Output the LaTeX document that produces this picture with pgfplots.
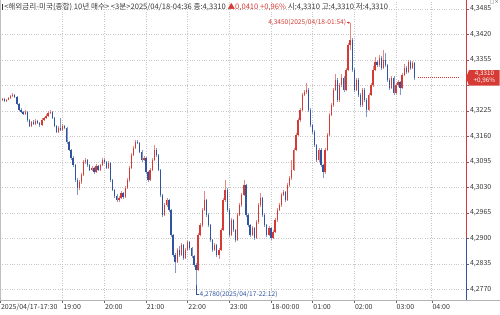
\documentclass[border=0pt]{standalone}
\usepackage{pgfplots}
\pgfplotsset{compat=1.18}
\usepackage{pgfplotstable}
\usetikzlibrary{arrows.meta}
\usepackage{fontspec}
\setmainfont{Noto Sans CJK KR}
\newfontfamily\dejavu{DejaVu Sans}
\definecolor{upc}{RGB}{214,58,52}
\definecolor{dnc}{RGB}{48,84,160}
\definecolor{txtc}{RGB}{55,55,55}

\pgfplotstableread{
i o h l c
0 4.3255 4.3260 4.3248 4.3253
1 4.3253 4.3259 4.3250 4.3256
2 4.3256 4.3258 4.3247 4.3251
3 4.3251 4.3256 4.3249 4.3253
4 4.3253 4.3261 4.3252 4.3258
5 4.3258 4.3266 4.3255 4.3263
6 4.3263 4.3270 4.3260 4.3266
7 4.3266 4.3268 4.3258 4.3261
8 4.3261 4.3263 4.3240 4.3243
9 4.3243 4.3246 4.3225 4.3228
10 4.3228 4.3232 4.3219 4.3223
11 4.3223 4.3226 4.3214 4.3218
12 4.3218 4.3228 4.3215 4.3223
13 4.3223 4.3225 4.3198 4.3202
14 4.3202 4.3205 4.3183 4.3187
15 4.3187 4.3200 4.3184 4.3197
16 4.3197 4.3201 4.3188 4.3192
17 4.3192 4.3204 4.3190 4.3200
18 4.3200 4.3203 4.3191 4.3195
19 4.3195 4.3198 4.3185 4.3189
20 4.3189 4.3206 4.3187 4.3202
21 4.3202 4.3210 4.3199 4.3207
22 4.3207 4.3216 4.3204 4.3212
23 4.3212 4.3224 4.3209 4.3220
24 4.3220 4.3228 4.3217 4.3223
25 4.3223 4.3226 4.3204 4.3207
26 4.3207 4.3210 4.3183 4.3187
27 4.3187 4.3190 4.3168 4.3172
28 4.3172 4.3186 4.3170 4.3182
29 4.3182 4.3207 4.3174 4.3177
30 4.3177 4.3191 4.3175 4.3187
31 4.3187 4.3190 4.3178 4.3182
32 4.3182 4.3184 4.3142 4.3146
33 4.3146 4.3149 4.3122 4.3126
34 4.3126 4.3129 4.3101 4.3105
35 4.3105 4.3110 4.3083 4.3087
36 4.3087 4.3090 4.3044 4.3049
37 4.3049 4.3053 4.3011 4.3029
38 4.3029 4.3048 4.3024 4.3044
39 4.3044 4.3066 4.3040 4.3062
40 4.3062 4.3099 4.3058 4.3095
41 4.3095 4.3106 4.3091 4.3100
42 4.3100 4.3103 4.3083 4.3087
43 4.3087 4.3090 4.3071 4.3075
44 4.3075 4.3085 4.3072 4.3080
45 4.3080 4.3083 4.3065 4.3069
46 4.3069 4.3090 4.3066 4.3085
47 4.3085 4.3088 4.3071 4.3075
48 4.3075 4.3091 4.3072 4.3087
49 4.3087 4.3105 4.3084 4.3100
50 4.3100 4.3104 4.3091 4.3095
51 4.3095 4.3098 4.3076 4.3080
52 4.3080 4.3097 4.3077 4.3092
53 4.3092 4.3095 4.3045 4.3049
54 4.3049 4.3052 4.3020 4.3024
55 4.3024 4.3027 4.3004 4.3008
56 4.3008 4.3012 4.2993 4.2998
57 4.2998 4.3008 4.2992 4.3003
58 4.3003 4.3020 4.3000 4.3016
59 4.3016 4.3019 4.3001 4.3006
60 4.3006 4.3034 4.3003 4.3029
61 4.3029 4.3054 4.3026 4.3049
62 4.3049 4.3085 4.3045 4.3080
63 4.3080 4.3118 4.3076 4.3113
64 4.3113 4.3136 4.3109 4.3131
65 4.3131 4.3150 4.3127 4.3146
66 4.3146 4.3152 4.3140 4.3144
67 4.3144 4.3147 4.3117 4.3121
68 4.3121 4.3125 4.3096 4.3100
69 4.3100 4.3110 4.3097 4.3105
70 4.3105 4.3108 4.3065 4.3069
71 4.3069 4.3072 4.3044 4.3049
72 4.3049 4.3080 4.3046 4.3075
73 4.3075 4.3105 4.3071 4.3100
74 4.3100 4.3138 4.3097 4.3126
75 4.3126 4.3130 4.3108 4.3113
76 4.3113 4.3116 4.3071 4.3075
77 4.3075 4.3078 4.3006 4.3011
78 4.3011 4.3014 4.2955 4.2960
79 4.2960 4.2990 4.2957 4.2985
80 4.2985 4.3003 4.2980 4.2998
81 4.2998 4.3001 4.2968 4.2973
82 4.2973 4.2976 4.2904 4.2909
83 4.2909 4.2912 4.2853 4.2858
84 4.2858 4.2862 4.2812 4.2840
85 4.2840 4.2876 4.2836 4.2871
86 4.2871 4.2880 4.2853 4.2858
87 4.2858 4.2888 4.2855 4.2883
88 4.2883 4.2886 4.2845 4.2850
89 4.2850 4.2876 4.2847 4.2871
90 4.2871 4.2896 4.2868 4.2891
91 4.2891 4.2894 4.2870 4.2875
92 4.2875 4.2878 4.2851 4.2855
93 4.2855 4.2858 4.2828 4.2832
94 4.2832 4.2836 4.2780 4.2820
95 4.2820 4.2914 4.2816 4.2909
96 4.2909 4.2940 4.2905 4.2934
97 4.2934 4.2978 4.2930 4.2973
98 4.2973 4.3020 4.2969 4.2998
99 4.2998 4.3001 4.2955 4.2960
100 4.2960 4.2964 4.2929 4.2934
101 4.2934 4.2937 4.2891 4.2896
102 4.2896 4.2899 4.2866 4.2871
103 4.2871 4.2888 4.2868 4.2883
104 4.2883 4.2886 4.2853 4.2858
105 4.2858 4.2876 4.2848 4.2871
106 4.2871 4.2927 4.2868 4.2922
107 4.2922 4.3003 4.2918 4.2998
108 4.2998 4.3049 4.2994 4.3024
109 4.3024 4.3028 4.2968 4.2973
110 4.2973 4.2977 4.2904 4.2909
111 4.2909 4.2952 4.2905 4.2947
112 4.2947 4.2950 4.2917 4.2922
113 4.2922 4.2925 4.2891 4.2896
114 4.2896 4.2965 4.2893 4.2960
115 4.2960 4.2990 4.2956 4.2985
116 4.2985 4.3016 4.2980 4.3011
117 4.3011 4.3049 4.3007 4.3036
118 4.3036 4.3040 4.2955 4.2960
119 4.2960 4.2964 4.2929 4.2934
120 4.2934 4.2938 4.2904 4.2909
121 4.2909 4.2932 4.2906 4.2927
122 4.2927 4.2930 4.2896 4.2901
123 4.2901 4.2947 4.2898 4.2942
124 4.2942 4.2990 4.2938 4.2985
125 4.2985 4.3016 4.2981 4.3003
126 4.3003 4.3006 4.2955 4.2960
127 4.2960 4.2964 4.2929 4.2934
128 4.2934 4.2938 4.2904 4.2909
129 4.2909 4.2932 4.2906 4.2927
130 4.2927 4.2930 4.2896 4.2901
131 4.2901 4.2922 4.2898 4.2917
132 4.2917 4.2952 4.2914 4.2947
133 4.2947 4.2978 4.2943 4.2973
134 4.2973 4.2990 4.2970 4.2985
135 4.2985 4.3016 4.2981 4.3011
136 4.3011 4.3023 4.3007 4.3018
137 4.3018 4.3021 4.2993 4.2998
138 4.2998 4.3041 4.2995 4.3036
139 4.3036 4.3059 4.3032 4.3054
140 4.3054 4.3100 4.3050 4.3075
141 4.3075 4.3131 4.3071 4.3126
142 4.3126 4.3169 4.3122 4.3164
143 4.3164 4.3207 4.3160 4.3202
144 4.3202 4.3233 4.3198 4.3228
145 4.3228 4.3271 4.3224 4.3266
146 4.3266 4.3278 4.3262 4.3273
147 4.3273 4.3297 4.3269 4.3279
148 4.3279 4.3283 4.3223 4.3228
149 4.3228 4.3232 4.3184 4.3189
150 4.3189 4.3193 4.3167 4.3172
151 4.3172 4.3176 4.3133 4.3138
152 4.3138 4.3142 4.3095 4.3100
153 4.3100 4.3131 4.3096 4.3126
154 4.3126 4.3130 4.3082 4.3087
155 4.3087 4.3091 4.3054 4.3069
156 4.3069 4.3131 4.3065 4.3126
157 4.3126 4.3169 4.3122 4.3164
158 4.3164 4.3220 4.3160 4.3215
159 4.3215 4.3245 4.3211 4.3240
160 4.3240 4.3284 4.3236 4.3279
161 4.3279 4.3320 4.3275 4.3304
162 4.3304 4.3308 4.3248 4.3253
163 4.3253 4.3296 4.3249 4.3291
164 4.3291 4.3320 4.3287 4.3309
165 4.3309 4.3313 4.3274 4.3279
166 4.3279 4.3335 4.3275 4.3330
167 4.3330 4.3398 4.3326 4.3393
168 4.3393 4.3450 4.3380 4.3406
169 4.3406 4.3410 4.3325 4.3330
170 4.3330 4.3334 4.3274 4.3279
171 4.3279 4.3309 4.3275 4.3304
172 4.3304 4.3308 4.3261 4.3266
173 4.3266 4.3270 4.3235 4.3240
174 4.3240 4.3284 4.3236 4.3279
175 4.3279 4.3283 4.3248 4.3253
176 4.3253 4.3257 4.3210 4.3228
177 4.3228 4.3271 4.3224 4.3266
178 4.3266 4.3296 4.3262 4.3291
179 4.3291 4.3340 4.3287 4.3330
180 4.3330 4.3362 4.3326 4.3350
181 4.3350 4.3355 4.3337 4.3342
182 4.3342 4.3368 4.3338 4.3360
183 4.3360 4.3364 4.3330 4.3335
184 4.3335 4.3380 4.3331 4.3355
185 4.3355 4.3372 4.3338 4.3342
186 4.3342 4.3346 4.3299 4.3304
187 4.3304 4.3308 4.3279 4.3284
188 4.3284 4.3314 4.3280 4.3309
189 4.3309 4.3313 4.3266 4.3271
190 4.3271 4.3296 4.3267 4.3291
191 4.3291 4.3305 4.3287 4.3299
192 4.3299 4.3302 4.3266 4.3284
193 4.3284 4.3322 4.3280 4.3317
194 4.3317 4.3345 4.3313 4.3335
195 4.3335 4.3339 4.3320 4.3325
196 4.3325 4.3355 4.3321 4.3350
197 4.3350 4.3354 4.3330 4.3335
198 4.3335 4.3352 4.3331 4.3347
199 4.3347 4.3350 4.3305 4.3310
}\candles

\begin{document}
\begin{tikzpicture}[x=1pt,y=1pt]
\useasboundingbox (0pt,0pt) rectangle (500pt,314pt);
\begin{axis}[
  at={(0pt,14pt)}, anchor=south west,
  scale only axis, width=466pt, height=300pt,
  xmin=-0.1, xmax=223.67, ymin=4.27429, ymax=4.3508,
  axis x line*=bottom, axis y line*=right,
  x axis line style={draw=black!30, -},
  y axis line style={draw=none, -},
  xtick={0,30,50,70,90,110,130,150,170,190,207.2},
  xticklabels={2025/04/17-17:30,19:00,20:00,21:00,22:00,23:00,18-00:00,01:00,02:00,03:00,04:00},
  ytick={4.2770,4.2835,4.2900,4.2965,4.3030,4.3095,4.3160,4.3225,4.3290,4.3355,4.3420,4.3485},
  yticklabels={4{,}2770,4{,}2835,4{,}2900,4{,}2965,4{,}3030,4{,}3095,4{,}3160,4{,}3225,,4{,}3355,4{,}3420,4{,}3485},
  tick align=outside, major tick length=3pt,
  xtick style={draw=black!60, line width=0.4pt},
  ytick style={draw=black!60, line width=0.4pt},
  yticklabel pos=right,
  xmajorgrids, ymajorgrids,
  grid style={draw=black!22, dotted, line width=0.5pt},
  xticklabel style={anchor=north west, inner xsep=0.6pt, inner ysep=0.8pt, font=\fontsize{7}{8}\selectfont, text=txtc},
  yticklabel style={anchor=west, inner xsep=0.8pt, font=\fontsize{7}{8}\selectfont, text=txtc},
  clip mode=individual,
  candle/.style={draw=none, mark=none, forget plot, restrict y to domain=4.2:4.4,
     error bars/y dir=plus, error bars/y explicit, error bars/error mark=none},
]
% wicks
\addplot[candle, error bars/error bar style={draw=upc!60, line width=0.6pt, solid}]
  table[x=i, y expr={ifthenelse(\thisrow{c}>=\thisrow{o},\thisrow{l},5)}, y error expr={\thisrow{h}-\thisrow{l}}] {\candles};
\addplot[candle, error bars/error bar style={draw=dnc!60, line width=0.6pt, solid}]
  table[x=i, y expr={ifthenelse(\thisrow{c}<\thisrow{o},\thisrow{l},5)}, y error expr={\thisrow{h}-\thisrow{l}}] {\candles};
% bodies
\addplot[candle, error bars/error bar style={draw=upc, line width=1.3pt, solid, line cap=butt}]
  table[x=i, y expr={ifthenelse(\thisrow{c}>=\thisrow{o},\thisrow{o},5)}, y error expr={max(\thisrow{c}-\thisrow{o},0.0002)}] {\candles};
\addplot[candle, error bars/error bar style={draw=dnc, line width=1.3pt, solid, line cap=butt}]
  table[x=i, y expr={ifthenelse(\thisrow{c}<\thisrow{o},\thisrow{c},5)}, y error expr={max(\thisrow{o}-\thisrow{c},0.0002)}] {\candles};
% current price dotted line
\addplot[upc, dash pattern=on 1pt off 1pt, line width=0.6pt, forget plot] coordinates {(200.5,4.3310) (219.8,4.3310)};

% right axis line, red above previous close, blue below
\draw[upc, line width=0.9pt] (axis cs:223.67,4.2900) -- (axis cs:223.67,4.3508);
\draw[dnc, line width=0.9pt] (axis cs:223.67,4.27429) -- (axis cs:223.67,4.2900);
\draw[black!25, line width=0.6pt] (axis cs:-0.1,4.27429) -- (axis cs:-0.1,4.3508);

% high annotation
\node[anchor=east, text=upc, font=\fontsize{6.6}{7}\selectfont, inner sep=0pt] at (axis cs:166.2,4.3450) {4,3450(2025/04/18-01:54)};
\draw[upc, line width=0.5pt, -{Stealth[length=2pt,width=2pt]}] (axis cs:166.3,4.3450) -- (axis cs:168,4.3450);
% low annotation
\draw[dnc, line width=0.5pt] (axis cs:94,4.2780) -- ++(0pt,-8.5pt) -- ++(3pt,0pt);
\node[anchor=west, text=dnc, font=\fontsize{6.6}{7}\selectfont, inner sep=0pt] at ([xshift=3.5pt,yshift=-8.5pt]axis cs:94,4.2780) {4,2780(2025/04/17-22:12)};
% current price box
\fill[upc] (axis cs:223.67,4.3310) -- ++(3pt,7.5pt) -- ++(30.5pt,0pt) -- ++(0pt,-15.5pt) -- ++(-30.5pt,0pt) -- cycle;
\node[text=white, font=\fontsize{6.3}{6.5}\selectfont, inner sep=0pt, anchor=center] at ([xshift=18.5pt,yshift=3.6pt]axis cs:223.67,4.3310) {4,3310};
\node[text=white, font=\fontsize{6.3}{6.5}\selectfont, inner sep=0pt, anchor=center] at ([xshift=18.5pt,yshift=-3.6pt]axis cs:223.67,4.3310) {+0,96\%};
\end{axis}
% bottom line across right label area
\draw[black!30, line width=0.6pt] (466pt,14pt) -- (500pt,14pt);
% header
\node[anchor=west, inner sep=0pt, font=\fontsize{7.6}{8}\selectfont, text=txtc] at (1.5pt,307pt) {\rule[-0.3pt]{1.3pt}{5.6pt}\,<해외금리-미국(종합) 10년 매수> <3분>2025/04/18-04:36 종:4,3310 \textcolor{upc}{▲0,0410 +0,96\%} 시:4,3310 고:4,3310 저:4,3310};
\node[anchor=north east, inner sep=0pt, font=\dejavu\fontsize{5}{5}\selectfont, text=black!60] at (499pt,314pt) {□×};
\end{tikzpicture}
\end{document}
